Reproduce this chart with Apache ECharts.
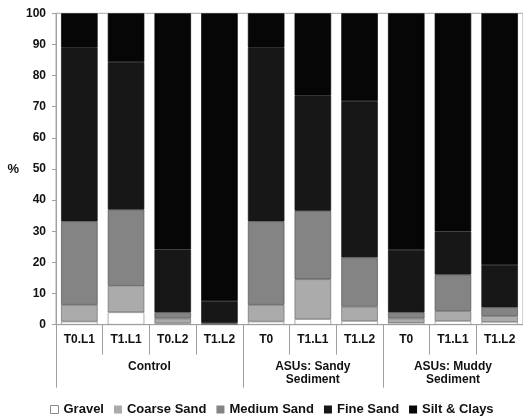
<!DOCTYPE html>
<html>
<head>
<meta charset="utf-8">
<title>Sediment grain size composition</title>
<script src="https://cdn.jsdelivr.net/npm/echarts@6/dist/echarts.min.js"></script>
<style>
  html, body { margin: 0; padding: 0; background: #fff; }
  #chart { width: 523px; height: 417px; }
</style>
</head>
<body>
<div id="chart"></div>
<script>
// Sample labels along the x axis
var categories = ['T0.L1', 'T1.L1', 'T0.L2', 'T1.L2', 'T0', 'T1.L1', 'T1.L2', 'T0', 'T1.L1', 'T1.L2'];

// Treatment groups and how many samples each spans
var groupNames = ['Control', 'ASUs: Sandy\nSediment', 'ASUs: Muddy\nSediment'];
var groupSizes = [4, 3, 3];

// Grain size fractions (% of sample)
var gravel     = [1.0, 4.0, 0.5, 0.1, 1.0, 1.8, 1.2, 0.6, 1.2, 0.9];
var coarseSand = [5.4, 8.5, 1.5, 0.2, 5.4, 12.8, 4.6, 1.4, 3.2, 1.9];
var mediumSand = [26.8, 24.5, 2.0, 0.3, 26.8, 22.0, 15.8, 2.0, 11.7, 2.8];
var fineSand   = [55.9, 47.3, 20.2, 7.0, 55.9, 37.0, 50.2, 20.0, 13.9, 13.6];
var siltClays  = [10.9, 15.7, 75.8, 92.4, 10.9, 26.4, 28.2, 76.0, 70.0, 80.8];

// Y axis ticks
var yTicks = [0, 10, 20, 30, 40, 50, 60, 70, 80, 90, 100];

// Group boundaries and label positions in category units
var groupEdges = [0];
var groupCenters = [];
groupSizes.forEach(function (n, i) {
  groupCenters.push(groupEdges[i] + n / 2);
  groupEdges.push(groupEdges[i] + n);
});

var FONT = '"Liberation Sans", Arial, sans-serif';
var GRID_LEFT = 56;
var CAT_WIDTH = 47.06;

var seriesDefs = [
  { name: 'Gravel',       data: gravel,     color: '#ffffff', border: '#8a8a8a' },
  { name: 'Coarse Sand',  data: coarseSand, color: '#ababab', border: '#6e6e6e' },
  { name: 'Medium Sand',  data: mediumSand, color: '#848484', border: '#555555' },
  { name: 'Fine Sand',    data: fineSand,   color: '#171717', border: '#171717' },
  { name: 'Silt & Clays', data: siltClays,  color: '#060606', border: '#060606' }
];

var chart = echarts.init(document.getElementById('chart'), null, { renderer: 'canvas' });

chart.setOption({
  animation: false,
  backgroundColor: '#ffffff',
  grid: {
    left: GRID_LEFT,
    right: 523 - GRID_LEFT - CAT_WIDTH * categories.length,
    top: 13.3,
    bottom: 92.3,
    show: true,
    borderColor: '#a8a8a8',
    borderWidth: 1,
    backgroundColor: 'transparent'
  },
  legend: {
    data: seriesDefs.map(function (s, i) {
      return {
        name: s.name,
        itemStyle: i === 0
          ? { color: s.color, borderColor: '#8a8a8a', borderWidth: 1 }
          : { color: s.color, borderWidth: 0 }
      };
    }),
    left: 45,
    top: 398,
    itemWidth: 8,
    itemHeight: 8,
    itemGap: 10,
    icon: 'rect',
    textStyle: { fontFamily: FONT, fontWeight: 'bold', fontSize: 13, color: '#111' }
  },
  xAxis: [
    {
      type: 'category',
      data: categories,
      position: 'bottom',
      axisLine: { show: true, lineStyle: { color: '#a0a0a0', width: 1 } },
      axisTick: { show: true, interval: 0, length: 30, lineStyle: { color: '#a0a0a0' } },
      axisLabel: {
        interval: 0, margin: 9,
        fontFamily: FONT, fontWeight: 'bold', fontSize: 12, color: '#111'
      }
    },
    {
      type: 'value',
      min: 0,
      max: categories.length,
      position: 'bottom',
      splitLine: { show: false },
      axisLine: { show: false },
      axisTick: {
        show: true, length: 63, customValues: groupEdges,
        lineStyle: { color: '#a0a0a0' }
      },
      axisLabel: {
        customValues: groupCenters,
        margin: 35,
        lineHeight: 13.5,
        fontFamily: FONT, fontWeight: 'bold', fontSize: 12, color: '#111',
        formatter: function (v) {
          var i = groupCenters.indexOf(v);
          return i >= 0 ? groupNames[i] : '';
        }
      }
    }
  ],
  yAxis: {
    type: 'value',
    min: yTicks[0],
    max: yTicks[yTicks.length - 1],
    interval: yTicks[1] - yTicks[0],
    name: '%',
    nameLocation: 'middle',
    nameRotate: 0,
    nameGap: 37,
    nameTextStyle: { fontFamily: FONT, fontWeight: 'bold', fontSize: 13, color: '#111' },
    axisLine: { show: true, lineStyle: { color: '#a0a0a0', width: 1 } },
    axisTick: { show: true, length: 4, lineStyle: { color: '#a0a0a0' } },
    splitLine: { show: false },
    axisLabel: { margin: 10, fontFamily: FONT, fontWeight: 'bold', fontSize: 12, color: '#111' }
  },
  series: seriesDefs.map(function (s) {
    return {
      name: s.name,
      type: 'bar',
      stack: 'grain',
      xAxisIndex: 0,
      barWidth: 36.5,
      data: s.data,
      itemStyle: { color: s.color, borderColor: s.border, borderWidth: 0.7 },
      emphasis: { disabled: true }
    };
  })
});
</script>
</body>
</html>
